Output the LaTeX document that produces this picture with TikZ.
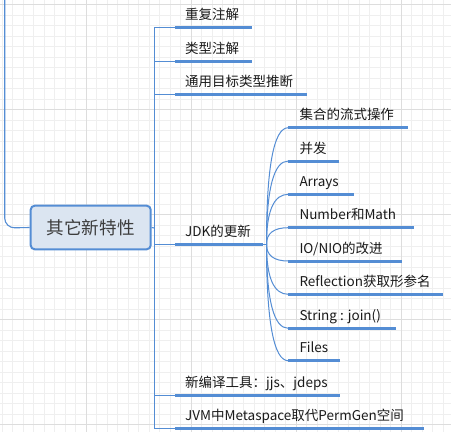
\documentclass[tikz,border=0pt]{standalone}
\usepackage{fontspec}
\setmainfont{Noto Sans CJK SC}
\usetikzlibrary{calc}
\definecolor{ln}{HTML}{548DD4}
\definecolor{rootfill}{HTML}{DBE5F1}
\definecolor{gminor}{HTML}{EFEFEF}
\definecolor{gmajor}{HTML}{DDDDDD}
\definecolor{txt}{HTML}{1A1A1A}
\begin{document}
\begin{tikzpicture}[x=1pt,y=-1pt,
  conn/.style={draw=ln,line width=1.1pt},
  uline/.style={draw=ln,line width=3pt},
  lbl/.style={anchor=base west,inner sep=0pt,text=txt,font=\fontsize{13.5}{13.5}\selectfont},
  rootbox/.style={draw=ln,line width=2pt,fill=rootfill,rounded corners=4pt,minimum width=120pt,minimum height=43.6pt,inner sep=0pt,text=txt!85,font=\fontsize{17.6}{17.6}\selectfont}]
\useasboundingbox (0,0) rectangle (451,432);
\fill[white] (0,0) rectangle (451,432);
% grid
\foreach \i in {0,...,42} \draw[gminor,line width=0.9pt] (2.3+10.5*\i,0) -- (2.3+10.5*\i,432);
\foreach \j in {0,...,40} \draw[gminor,line width=0.9pt] (0,4.5+10.5*\j) -- (451,4.5+10.5*\j);
\foreach \i in {86.3,191.3,296.3,401.3} \draw[gmajor,line width=1pt] (\i,0) -- (\i,432);
\foreach \j in {4.5,109.5,214.5,319.5,424.5} \draw[gmajor,line width=1pt] (0,\j) -- (451,\j);

% root
\node[rootbox] (root) at (90.7,227.5) {其它新特性};
\coordinate (topin) at (4.7,0);
\draw[conn,rounded corners=10pt] (topin) -- (4.7,228) -- (root.west);

% trunk
\coordinate (tr) at (154.3,228);
\coordinate (trtop) at (154.3,27.7);
\coordinate (trbot) at (154.3,428.3);
\draw[conn] (root.east) -- (tr);
\draw[conn] (trtop) -- (trbot);

% level 1
\foreach \y/\e/\t/\n in {27.7/252.3/重复注解/a, 61.5/252.3/类型注解/b, 94.5/307.3/通用目标类型推断/c, 244.3/262.7/JDK的更新/jdk, 395.3/340/新编译工具：jjs、jdeps/e, 428.3/424/JVM中Metaspace取代PermGen空间/f}{
  \coordinate (\n-t) at (154.3,\y);
  \coordinate (\n-s) at (175,\y);
  \coordinate (\n-e) at (\e,\y);
  \node[lbl] (\n) at (185,\y-8) {\t};
  \draw[conn] (\n-t) -- (\n-s);
  \draw[uline] (\n-s) -- (\n-e);
}

% level 2
\coordinate (hub) at (266.5,244.3);
\draw[conn] (jdk-e) -- (hub);
\foreach \y/\e/\t/\n in {127.7/407.7/集合的流式操作/k1, 161/339.3/并发/k2, 194.3/354.3/Arrays/k3, 227.7/414.3/Number和Math/k4, 261/402.3/{IO/NIO的改进}/k5, 294.3/443.3/Reflection获取形参名/k6, 328.3/396/String : join()/k7, 360.7/340/Files/k8}{
  \coordinate (\n-s) at (288.3,\y);
  \coordinate (\n-e) at (\e,\y);
  \node[lbl] (\n) at (299.3,\y-8) {\t};
  \draw[conn,line width=1pt] (hub) .. controls ($(hub)!0.667!(hub|-\n-s)$) and ($(\n-s)!0.667!(hub|-\n-s)$) .. (\n-s);
  \draw[uline] (\n-s) -- (\n-e);
}
\end{tikzpicture}
\end{document}
